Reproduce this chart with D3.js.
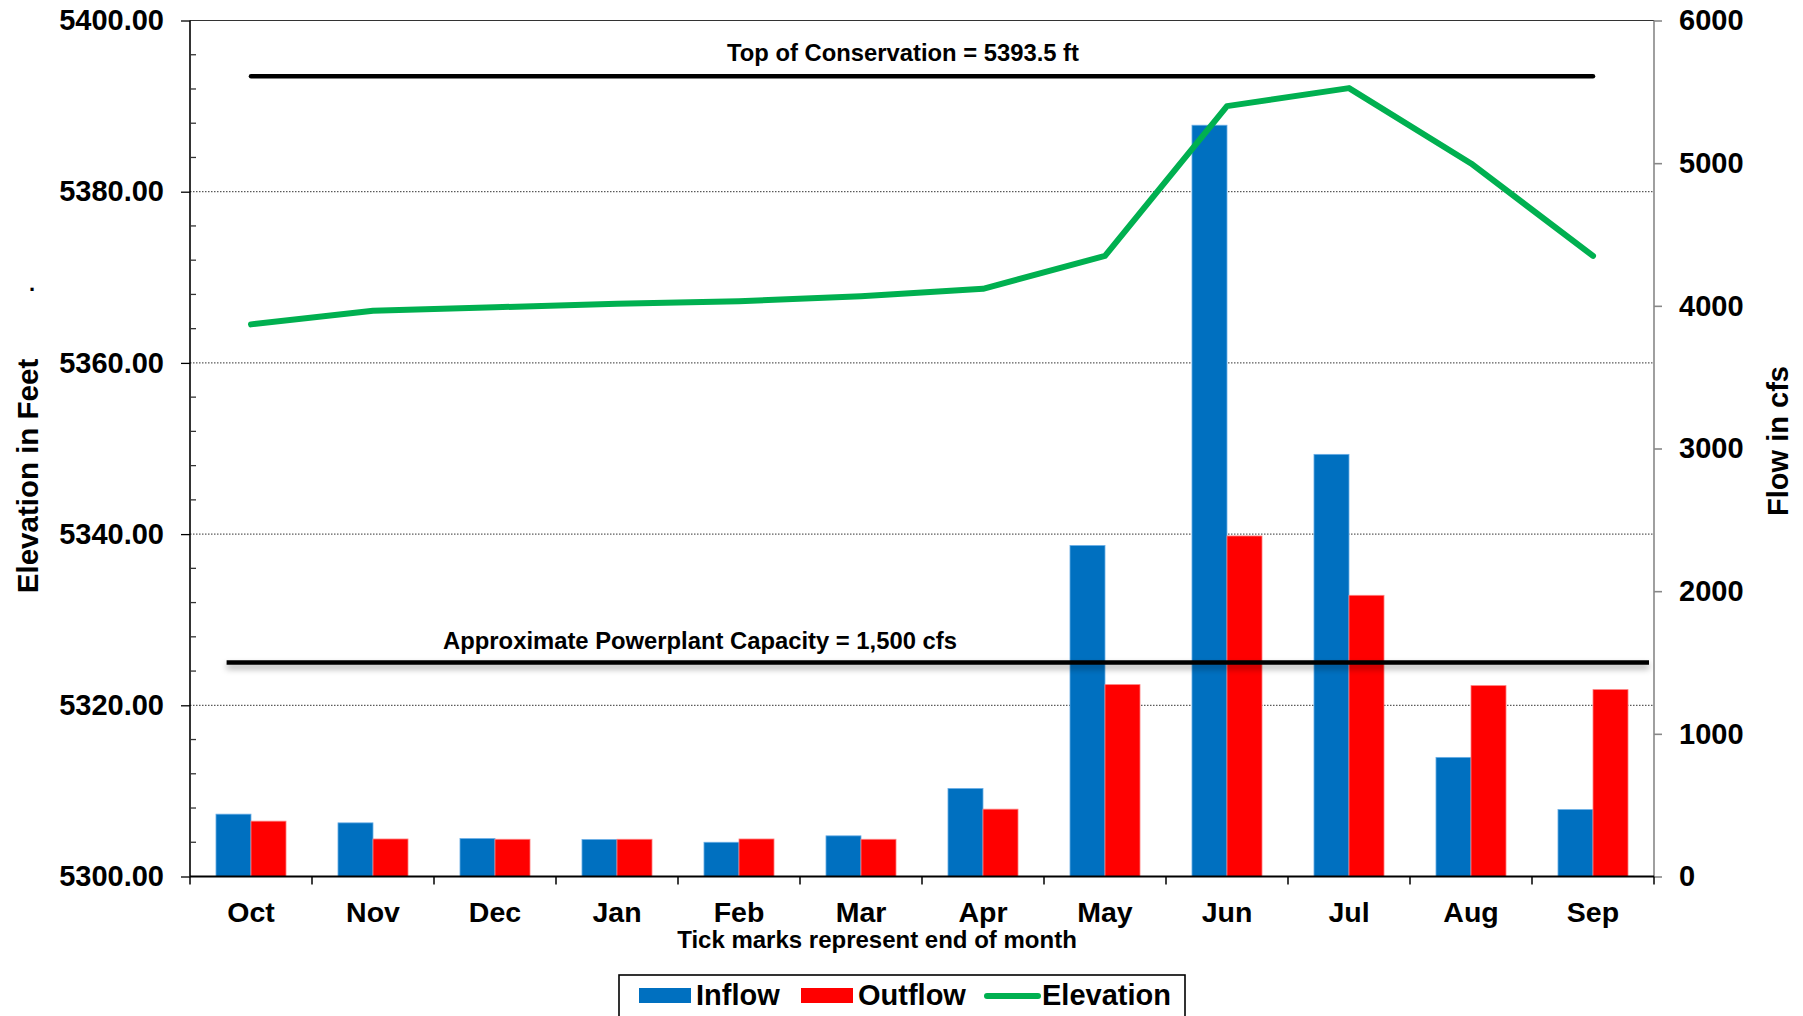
<!DOCTYPE html>
<html>
<head>
<meta charset="utf-8">
<script src="https://cdn.jsdelivr.net/npm/d3@7"></script>
<style>
  html, body { margin: 0; padding: 0; background: #fff; overflow: hidden; }
  svg { display: block; font-family: "Liberation Sans", Arial, sans-serif; font-weight: bold; }
</style>
</head>
<body>
<svg id="chart" width="1803" height="1016"></svg>
<script>
/* ---- data ---- */
const months = ["Oct", "Nov", "Dec", "Jan", "Feb", "Mar", "Apr", "May", "Jun", "Jul", "Aug", "Sep"];
const inflow = [437, 376, 266, 259, 240, 285, 617, 2320, 5266, 2959, 835, 469];
const outflow = [388, 263, 261, 261, 263, 261, 472, 1345, 2387, 1971, 1338, 1310];
const elevation = [5364.5, 5366.1, 5366.5, 5366.9, 5367.2, 5367.8, 5368.65, 5372.5, 5390.0, 5392.1, 5383.3, 5372.5];
const elevTicks = [5300, 5320, 5340, 5360, 5380, 5400];
const flowTicks = [0, 1000, 2000, 3000, 4000, 5000, 6000];
const topConservation = 5393.5;
const powerplantCapacity = 1500;

const colors = { inflow: "#0070C0", outflow: "#FF0000", elevation: "#00B050" };

/* ---- layout ---- */
const svg = d3.select("#chart");
const plotLeft = 190, plotRight = 1654, plotTop = 20.5, plotBottom = 876.5;

const x = d3.scaleBand().domain(months).range([plotLeft, plotRight]).padding(0);
const bw = x.bandwidth();
const groupW = bw * 0.574;
const xSub = d3.scaleBand().domain(["inflow", "outflow"]).range([0, groupW]).padding(0);

const yL = d3.scaleLinear().domain([5300, 5400]).range([plotBottom, plotTop]);
const yR = d3.scaleLinear().domain([0, 6000]).range([plotBottom, plotTop]);

// drop shadow for the powerplant line (user space, since the line has no height)
const defs = svg.append("defs");
defs.append("filter").attr("id", "shadow").attr("filterUnits", "userSpaceOnUse")
  .attr("x", 0).attr("y", 0).attr("width", 1803).attr("height", 1016)
  .append("feDropShadow").attr("dx", 0).attr("dy", 4).attr("stdDeviation", 3)
  .attr("flood-color", "#000").attr("flood-opacity", 0.35);

/* gridlines */
svg.append("g").selectAll("line")
  .data(elevTicks.filter(d => d > 5300))
  .join("line")
  .attr("x1", plotLeft).attr("x2", plotRight)
  .attr("y1", d => yL(d)).attr("y2", d => yL(d))
  .attr("stroke", "#333").attr("stroke-width", 1)
  .attr("stroke-dasharray", d => d === 5400 ? null : "1.5,1.5");

/* bars */
const series = months.map((m, i) => ({ m, inflow: inflow[i], outflow: outflow[i] }));
const groups = svg.append("g").selectAll("g")
  .data(series)
  .join("g")
  .attr("transform", d => `translate(${x(d.m) + (bw - groupW) / 2},0)`);

groups.selectAll("rect")
  .data(d => ["inflow", "outflow"].map(k => ({ k, v: d[k] })))
  .join("rect")
  .attr("x", d => xSub(d.k))
  .attr("width", xSub.bandwidth())
  .attr("y", d => yR(d.v))
  .attr("height", d => plotBottom - yR(d.v))
  .attr("fill", d => colors[d.k])
  .attr("stroke", d => d.k === "inflow" ? "#6aaee6" : "#ff8080")
  .attr("stroke-width", 0.8);

/* reference lines */
const xc = m => x(m) + bw / 2;
svg.append("line")
  .attr("x1", xc(months[0])).attr("x2", xc(months[months.length - 1]))
  .attr("y1", yL(topConservation)).attr("y2", yL(topConservation))
  .attr("stroke", "#000").attr("stroke-width", 4.5).attr("stroke-linecap", "round");

svg.append("line")
  .attr("x1", plotLeft + bw * 0.3).attr("x2", plotRight - 5)
  .attr("y1", yR(powerplantCapacity)).attr("y2", yR(powerplantCapacity))
  .attr("stroke", "#000").attr("stroke-width", 4.5)
  .attr("filter", "url(#shadow)");

svg.append("text")
  .attr("x", 903).attr("y", yL(topConservation) - 15)
  .attr("text-anchor", "middle").attr("font-size", 23.8)
  .text("Top of Conservation = 5393.5 ft");

svg.append("text")
  .attr("x", 700).attr("y", yR(powerplantCapacity) - 14)
  .attr("text-anchor", "middle").attr("font-size", 23.8)
  .text("Approximate Powerplant Capacity = 1,500 cfs");

/* elevation line */
const line = d3.line()
  .x((d, i) => xc(months[i]))
  .y(d => yL(d));
svg.append("path")
  .datum(elevation)
  .attr("d", line)
  .attr("fill", "none")
  .attr("stroke", colors.elevation)
  .attr("stroke-width", 6)
  .attr("stroke-linejoin", "round")
  .attr("stroke-linecap", "round");

/* left axis */
const gL = svg.append("g").attr("transform", `translate(${plotLeft},0)`);
gL.call(d3.axisLeft(yL).tickValues(elevTicks).tickFormat(d3.format(".2f")).tickSize(9).tickPadding(17));
gL.select(".domain").attr("stroke", "#000").attr("stroke-width", 1.6).attr("d", `M0,${plotTop}V${plotBottom}`);
gL.selectAll(".tick line").attr("stroke", "#000").attr("stroke-width", 1.3);
gL.selectAll(".tick text").attr("font-size", 29).attr("font-weight", "bold").attr("fill", "#000")
  .attr("font-family", "'Liberation Sans', Arial, sans-serif");

const minor = d3.range(5300, 5400.1, 4).filter(d => d % 20 !== 0);
gL.append("g").selectAll("line")
  .data(minor)
  .join("line")
  .attr("x1", 0).attr("x2", 6)
  .attr("y1", d => yL(d)).attr("y2", d => yL(d))
  .attr("stroke", "#333").attr("stroke-width", 1.3);

/* right axis */
const gR = svg.append("g").attr("transform", `translate(${plotRight},0)`);
gR.call(d3.axisRight(yR).tickValues(flowTicks).tickFormat(d3.format("d")).tickSize(8).tickPadding(17));
gR.select(".domain").attr("stroke", "#888").attr("stroke-width", 1.6).attr("d", `M0,${plotTop}V${plotBottom}`);
gR.selectAll(".tick line").attr("stroke", "#888").attr("stroke-width", 1.6);
gR.selectAll(".tick text").attr("font-size", 29).attr("font-weight", "bold").attr("fill", "#000")
  .attr("font-family", "'Liberation Sans', Arial, sans-serif");

/* bottom axis: ticks at month boundaries */
const gB = svg.append("g");
gB.append("line")
  .attr("x1", plotLeft).attr("x2", plotRight)
  .attr("y1", plotBottom).attr("y2", plotBottom)
  .attr("stroke", "#000").attr("stroke-width", 2);
gB.selectAll("line.tk")
  .data(months.map(m => x(m)).concat([plotRight]))
  .join("line")
  .attr("class", "tk")
  .attr("x1", d => d).attr("x2", d => d)
  .attr("y1", plotBottom).attr("y2", plotBottom + 8)
  .attr("stroke", "#000").attr("stroke-width", 1.5);
gB.selectAll("text")
  .data(months)
  .join("text")
  .attr("x", d => xc(d))
  .attr("y", 921.5)
  .attr("text-anchor", "middle")
  .attr("font-size", 28.5)
  .text(d => d);

svg.append("text")
  .attr("x", 877).attr("y", 948)
  .attr("text-anchor", "middle").attr("font-size", 24)
  .text("Tick marks represent end of month");

/* axis titles */
svg.append("text")
  .attr("transform", "translate(27.5,476) rotate(-90)")
  .attr("text-anchor", "middle").attr("dominant-baseline", "central")
  .attr("font-size", 29.5)
  .text("Elevation in Feet");
svg.append("text")
  .attr("x", 29).attr("y", 291)
  .attr("font-size", 22)
  .text(".");

svg.append("text")
  .attr("transform", "translate(1778,441) rotate(-90)")
  .attr("text-anchor", "middle").attr("dominant-baseline", "central")
  .attr("font-size", 29)
  .text("Flow in cfs");

/* legend */
const lg = svg.append("g");
lg.append("rect")
  .attr("x", 619).attr("y", 975).attr("width", 566).attr("height", 60)
  .attr("fill", "#fff").attr("stroke", "#000").attr("stroke-width", 1.6);
const legendItems = [
  { label: "Inflow", key: "inflow", type: "rect", x: 639 },
  { label: "Outflow", key: "outflow", type: "rect", x: 801 },
  { label: "Elevation", key: "elevation", type: "line", x: 985 }
];
legendItems.forEach(it => {
  if (it.type === "rect") {
    lg.append("rect").attr("x", it.x).attr("y", 988).attr("width", 52).attr("height", 15)
      .attr("fill", colors[it.key]);
  } else {
    lg.append("line").attr("x1", it.x + 2).attr("x2", it.x + 53)
      .attr("y1", 996).attr("y2", 996)
      .attr("stroke", colors[it.key]).attr("stroke-width", 6).attr("stroke-linecap", "round");
  }
  lg.append("text").attr("x", it.x + 57).attr("y", 1005)
    .attr("font-size", 29).text(it.label);
});
</script>
</body>
</html>
